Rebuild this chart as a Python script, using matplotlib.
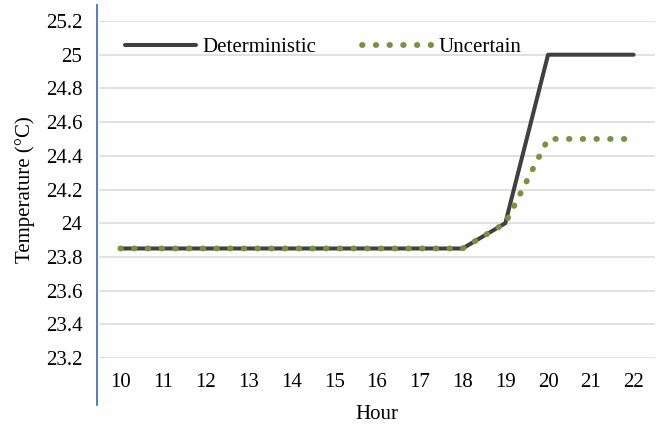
import matplotlib.pyplot as plt
from matplotlib.lines import Line2D

hours = [10, 11, 12, 13, 14, 15, 16, 17, 18, 19, 20, 21, 22]
deterministic = [23.85, 23.85, 23.85, 23.85, 23.85, 23.85, 23.85, 23.85, 23.85, 24.0, 25.0, 25.0, 25.0]
uncertain = [23.85, 23.85, 23.85, 23.85, 23.85, 23.85, 23.85, 23.85, 23.85, 24.0, 24.5, 24.5, 24.5]
y_ticks = [23.2, 23.4, 23.6, 23.8, 24.0, 24.2, 24.4, 24.6, 24.8, 25.0, 25.2]
y_labels = ["23.2", "23.4", "23.6", "23.8", "24", "24.2", "24.4", "24.6", "24.8", "25", "25.2"]

plt.rcParams["font.family"] = ["Liberation Serif", "DejaVu Serif"]

fig = plt.figure(figsize=(6.72, 4.25), dpi=100)
ax = fig.add_axes([0.1473, 0.1576, 0.8274, 0.7930])

ax.plot(hours, deterministic, color="#404040", linewidth=2.9,
        solid_capstyle="round", label="Deterministic", zorder=3)
ax.plot(hours, uncertain, color="#77933C", linewidth=4.2,
        linestyle=(0, (0.1, 2.25)), dash_capstyle="round",
        label="Uncertain", zorder=4)

ax.set_xlim(9.5, 22.5)
ax.set_ylim(23.2, 25.2)
ax.set_xticks(hours)
ax.set_xticklabels([str(h) for h in hours])
ax.set_yticks(y_ticks)
ax.set_yticklabels(y_labels)
ax.tick_params(axis="both", length=0, labelsize=15)
ax.tick_params(axis="y", pad=12)
ax.tick_params(axis="x", pad=11)

ax.grid(axis="y", color="#D9D9D9", linewidth=1.1)
ax.set_axisbelow(True)
for s in ax.spines.values():
    s.set_visible(False)

ax.set_xlabel("Hour", fontsize=15, labelpad=9)
ax.set_ylabel("Temperature (\u00b0C)", fontsize=15, labelpad=8)

ax.legend(loc="upper left", bbox_to_anchor=(0.047, 0.95), ncol=2, frameon=False,
          fontsize=15, handlelength=3.4, handletextpad=0.3, columnspacing=2.2,
          borderaxespad=0, borderpad=0)

# blue rule on the left edge, as in the source document
fig.add_artist(Line2D([97 / 672, 97 / 672], [1 - 5 / 425, 1 - 405 / 425],
                      transform=fig.transFigure, color="#4472C4", linewidth=1.3))

fig.savefig("out.png", dpi=100)
